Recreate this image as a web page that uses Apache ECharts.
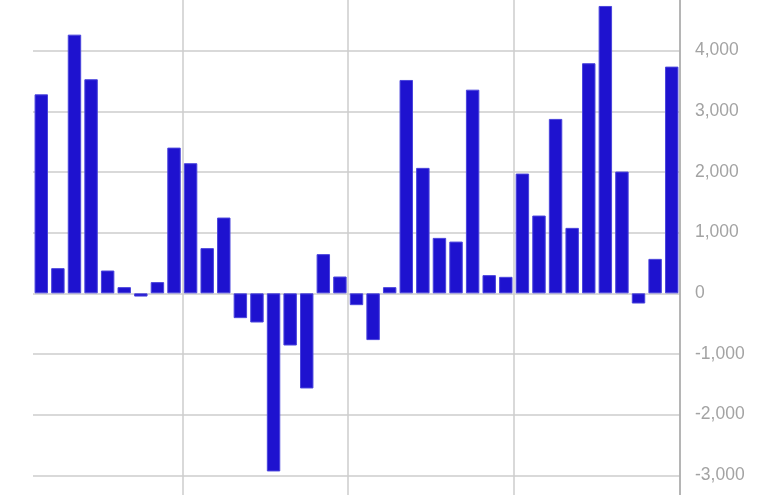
<!DOCTYPE html>
<html>
<head>
<meta charset="utf-8">
<script src="https://cdn.jsdelivr.net/npm/echarts@6/dist/echarts.min.js"></script>
<style>
html,body{margin:0;padding:0;background:#fff;}
#chart{width:765px;height:495px;}
</style>
</head>
<body>
<div id="chart"></div>
<script>
const categories = Array.from({length: 39}, (_, i) => String(i + 1));
const values = [
  3280, 415, 4264, 3529, 376, 102, -53, 185, 2402, 2145,
  745, 1249, -409, -481, -2936, -860, -1568, 646, 277, -195,
  -771, 102, 3517, 2068, 914, 853, 3357, 300, 272, 1974,
  1282, 2875, 1079, 3793, 4737, 2007, -168, 568, 3737
];
const yMin = -4000;
const yMax = 5000;
const yStep = 1000;

const chart = echarts.init(document.getElementById('chart'), null, {renderer: 'canvas'});
chart.setOption({
  animation: false,
  backgroundColor: '#ffffff',
  grid: {left: 33, right: 85, top: -10, bottom: -41, containLabel: false, outerBoundsMode: 'none'},
  xAxis: {
    type: 'category',
    data: categories,
    boundaryGap: true,
    axisLine: {show: false},
    axisTick: {show: false},
    axisLabel: {show: false},
    splitLine: {
      show: true,
      interval: function (index) { return index % 10 === 9; },
      lineStyle: {color: '#cccccc', width: 1.5}
    }
  },
  yAxis: {
    type: 'value',
    position: 'right',
    min: yMin,
    max: yMax,
    interval: yStep,
    axisLine: {show: true, lineStyle: {color: '#a8a8a8', width: 1.5}},
    axisTick: {show: false},
    axisLabel: {
      margin: 15,
      color: '#a3a3a3',
      fontSize: 17.5,
      fontFamily: 'Arial, "Liberation Sans", sans-serif',
      formatter: function (v) { return v.toLocaleString('en-US'); }
    },
    splitLine: {show: true, lineStyle: {color: '#cccccc', width: 1.5}}
  },
  series: [{
    type: 'bar',
    data: values,
    barCategoryGap: '19%',
    itemStyle: {color: '#1e12cf', borderColor: '#4a44dc', borderWidth: 1}
  }]
});
</script>
</body>
</html>
